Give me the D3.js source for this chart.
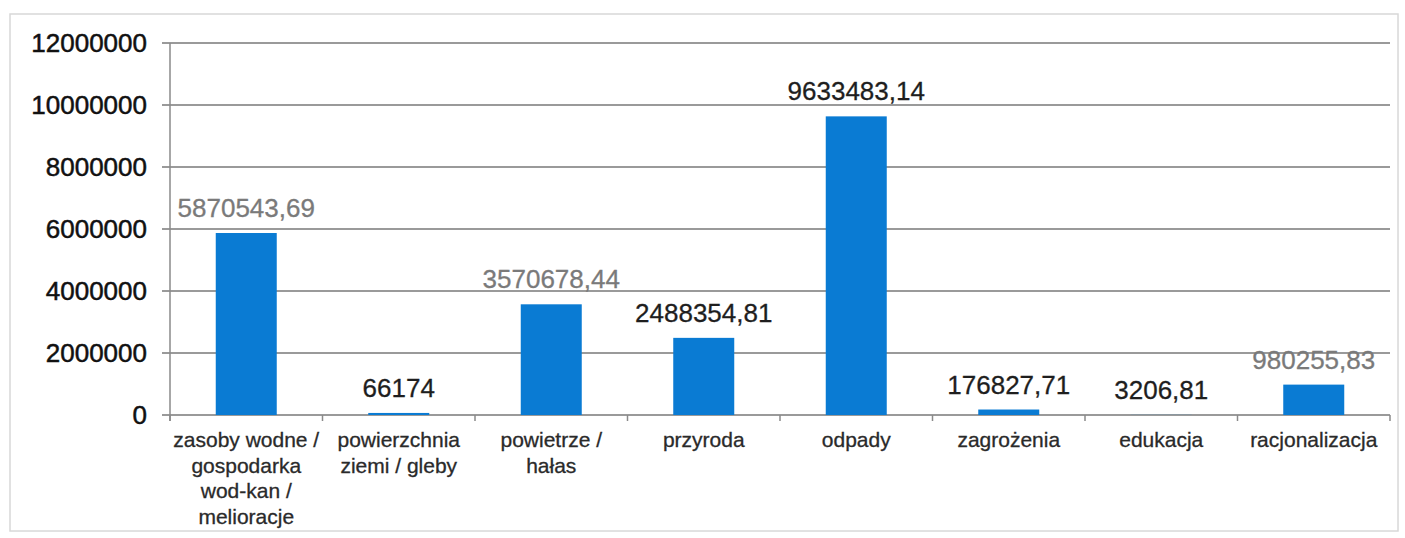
<!DOCTYPE html>
<html>
<head>
<meta charset="utf-8">
<script src="https://cdn.jsdelivr.net/npm/d3@7"></script>
<style>
  body { margin: 0; background: #fff; }
  text { font-family: "Liberation Sans", Arial, sans-serif; }
</style>
</head>
<body>
<svg></svg>
<script>
let categories = [
    ['zasoby wodne /', 'gospodarka', 'wod-kan /', 'melioracje'],
    ['powierzchnia', 'ziemi / gleby'],
    ['powietrze /', 'hałas'],
    ['przyroda'],
    ['odpady'],
    ['zagrożenia'],
    ['edukacja'],
    ['racjonalizacja']
]
let values = [5870543.69, 66174, 3570678.44, 2488354.81, 9633483.14, 176827.71, 3206.81, 980255.83]
let valueLabels = ['5870543,69', '66174', '3570678,44', '2488354,81', '9633483,14', '176827,71', '3206,81', '980255,83']
let grayLabel = [true, false, true, false, false, false, false, true]
let yTicks = [0, 2000000, 4000000, 6000000, 8000000, 10000000, 12000000]

let width = 1405
let height = 538
let plotLeft = 170
let plotRight = 1390
let plotTop = 43
let plotBottom = 415

let svg = d3.select('svg')
    .attr('width', width)
    .attr('height', height)

// frame
svg.append('rect')
    .attr('x', 10).attr('y', 14)
    .attr('width', 1388).attr('height', 517)
    .attr('fill', 'none')
    .attr('stroke', '#d8d8d8')
    .attr('stroke-width', 1.5)

let xScale = d3.scaleBand()
    .domain(d3.range(categories.length))
    .range([plotLeft, plotRight])
    .paddingInner(0.6)
    .paddingOuter(0.3)

let bandScale = d3.scaleBand()
    .domain(d3.range(categories.length))
    .range([plotLeft, plotRight])

let yScale = d3.scaleLinear()
    .domain([0, 12000000])
    .range([plotBottom, plotTop])

// grid
svg.append('g')
    .selectAll('line')
    .data(yTicks)
    .enter()
    .append('line')
    .attr('x1', plotLeft - 8)
    .attr('x2', plotRight)
    .attr('y1', d => yScale(d))
    .attr('y2', d => yScale(d))
    .attr('stroke', '#9a9a9a')
    .attr('stroke-width', 2)

// y axis line
svg.append('line')
    .attr('x1', plotLeft).attr('x2', plotLeft)
    .attr('y1', plotTop).attr('y2', plotBottom + 6)
    .attr('stroke', '#8a8a8a')
    .attr('stroke-width', 1.5)

// x ticks between categories
svg.append('g')
    .selectAll('line')
    .data(d3.range(categories.length + 1))
    .enter()
    .append('line')
    .attr('x1', i => plotLeft + i * bandScale.bandwidth())
    .attr('x2', i => plotLeft + i * bandScale.bandwidth())
    .attr('y1', plotBottom)
    .attr('y2', plotBottom + 6)
    .attr('stroke', '#8a8a8a')
    .attr('stroke-width', 1.5)

// y labels
svg.append('g')
    .selectAll('text')
    .data(yTicks)
    .enter()
    .append('text')
    .attr('x', 147)
    .attr('y', d => yScale(d) + 9)
    .attr('text-anchor', 'end')
    .attr('font-size', 26)
    .attr('fill', '#111')
    .attr('stroke', '#111')
    .attr('stroke-width', 0.5)
    .text(d => d)

// bars
svg.append('g')
    .selectAll('rect')
    .data(values)
    .enter()
    .append('rect')
    .attr('x', (d, i) => xScale(i))
    .attr('y', d => yScale(d))
    .attr('width', xScale.bandwidth())
    .attr('height', d => plotBottom - yScale(d))
    .attr('fill', '#0a7bd3')

// value labels
svg.append('g')
    .selectAll('text')
    .data(values)
    .enter()
    .append('text')
    .attr('x', (d, i) => xScale(i) + xScale.bandwidth() / 2)
    .attr('y', d => yScale(d) - 16)
    .attr('text-anchor', 'middle')
    .attr('font-size', 26)
    .attr('fill', (d, i) => grayLabel[i] ? '#7a7a7a' : '#1e1e1e')
    .attr('stroke', (d, i) => grayLabel[i] ? '#7a7a7a' : '#1e1e1e')
    .attr('stroke-width', 0.3)
    .text((d, i) => valueLabels[i])

// category labels
let catG = svg.append('g')
    .selectAll('text')
    .data(categories)
    .enter()
    .append('text')
    .attr('text-anchor', 'middle')
    .attr('font-size', 21)
    .attr('fill', '#2a2a2a')
    .attr('stroke', '#2a2a2a')
    .attr('stroke-width', 0.3)

catG.selectAll('tspan')
    .data((d, i) => d.map(line => ({ line: line, i: i })))
    .enter()
    .append('tspan')
    .attr('x', d => xScale(d.i) + xScale.bandwidth() / 2)
    .attr('y', (d, j) => 447 + j * 25.5)
    .text(d => d.line)
</script>
</body>
</html>
